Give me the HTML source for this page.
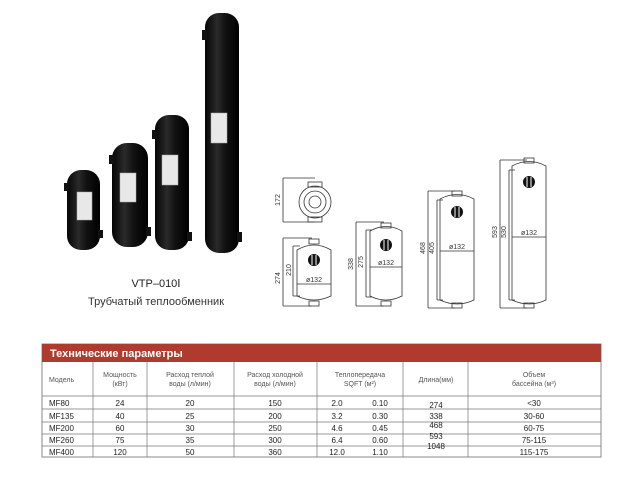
<!DOCTYPE html>
<html><head><meta charset="utf-8"><style>
body{margin:0;background:#fff;width:640px;height:480px;overflow:hidden;font-family:"Liberation Sans",sans-serif;}
svg{position:absolute;left:0;top:0}
</style></head><body>
<svg width="640" height="480" viewBox="0 0 640 480" font-family="Liberation Sans, sans-serif">
<defs>
<linearGradient id="tg" x1="0" x2="1"><stop offset="0" stop-color="#050505"/><stop offset="0.35" stop-color="#2a2a2a"/><stop offset="0.6" stop-color="#111"/><stop offset="1" stop-color="#000"/></linearGradient>
</defs>
<g fill="url(#tg)">
<rect x="67" y="170" width="33" height="80" rx="14"/>
<rect x="112" y="143" width="36" height="104" rx="15"/>
<rect x="155" y="115" width="34" height="135" rx="14"/>
<rect x="205" y="13" width="34" height="240" rx="14"/>
</g>
<g fill="#111">
<rect x="64" y="183" width="5" height="8"/><rect x="98" y="230" width="5" height="8"/>
<rect x="109" y="155" width="5" height="9"/><rect x="146" y="227" width="5" height="9"/>
<rect x="152" y="130" width="5" height="9"/><rect x="187" y="232" width="5" height="9"/>
<rect x="202" y="30" width="5" height="10"/><rect x="237" y="232" width="5" height="10"/>
</g>
<g fill="#e8e8e8" stroke="#aaa" stroke-width="0.5">
<rect x="77" y="192" width="15" height="28"/>
<rect x="120" y="173" width="16" height="29"/>
<rect x="162" y="155" width="16" height="30"/>
<rect x="211" y="113" width="16" height="30"/>
</g>
<text x="156" y="287" font-size="11" text-anchor="middle" fill="#222">VTP–010Ⅰ</text>
<text x="156" y="305" font-size="11" text-anchor="middle" fill="#333">Трубчатый теплообменник</text>

<g fill="none" stroke="#333" stroke-width="0.8">
<circle cx="315" cy="202" r="16"/><circle cx="315" cy="202" r="11"/><circle cx="315" cy="202" r="6"/>
<rect x="308" y="182" width="14" height="5"/><rect x="308" y="217" width="14" height="5"/>
<path d="M283 178V222M283 178H315M283 222H315"/>
<path d="M297 250Q314 240 331 250V296Q314 304 297 296Z"/>
<rect x="309" y="239" width="10" height="5"/><rect x="309" y="301" width="10" height="5"/>
<path d="M283 238V306M283 238H312M283 306H312M293 246V296M293 246H300M293 296H300M297 284H331"/>
<path d="M370 231Q386 222 402 231V296Q386 304 370 296Z"/>
<rect x="381" y="223" width="10" height="5"/><rect x="381" y="301" width="10" height="5"/>
<path d="M356 222V306M356 222H384M356 306H384M366 230V297M366 230H372M366 297H372M370 267H402"/>
<path d="M440 199Q457 190 474 199V300Q457 308 440 300Z"/>
<rect x="452" y="191" width="10" height="5"/><rect x="452" y="303" width="10" height="5"/>
<path d="M428 191V308M428 191H455M428 308H455M437 200V300M437 200H443M437 300H443M440 251H474"/>
<path d="M512 166Q529 157 546 166V300Q529 308 512 300Z"/>
<rect x="524" y="158" width="10" height="5"/><rect x="524" y="303" width="10" height="5"/>
<path d="M500 160V308M500 160H527M500 308H527M509 170V300M509 170H515M509 300H515M512 237H546"/>
</g>
<g fill="#111">
<circle cx="314" cy="260" r="6"/><circle cx="386" cy="245" r="6"/><circle cx="457" cy="212" r="6"/><circle cx="529" cy="182" r="6"/>
</g>
<g stroke="#fff" stroke-width="1"><path d="M312 255V265M316 255V265M384 240V250M388 240V250M455 207V217M459 207V217M527 177V187M531 177V187"/></g>
<g font-size="7" fill="#333">
<text x="314" y="282" text-anchor="middle">ø132</text>
<text x="386" y="265" text-anchor="middle">ø132</text>
<text x="457" y="249" text-anchor="middle">ø132</text>
<text x="529" y="235" text-anchor="middle">ø132</text>
<text transform="translate(280,200) rotate(-90)" text-anchor="middle">172</text>
<text transform="translate(280,278) rotate(-90)" text-anchor="middle">274</text>
<text transform="translate(291,270) rotate(-90)" text-anchor="middle">210</text>
<text transform="translate(353,264) rotate(-90)" text-anchor="middle">338</text>
<text transform="translate(363,262) rotate(-90)" text-anchor="middle">275</text>
<text transform="translate(425,248) rotate(-90)" text-anchor="middle">468</text>
<text transform="translate(434,248) rotate(-90)" text-anchor="middle">405</text>
<text transform="translate(497,232) rotate(-90)" text-anchor="middle">593</text>
<text transform="translate(506,232) rotate(-90)" text-anchor="middle">530</text>
</g>

<rect x="42" y="344" width="559" height="113" fill="#fff" stroke="#888" stroke-width="1"/>
<rect x="42" y="344" width="559" height="18" fill="#b03a2e"/>
<text x="50" y="357" font-size="11" font-weight="bold" fill="#fff">Технические параметры</text>
<g stroke="#777" stroke-width="0.7">
<path d="M93 362V457M147 362V457M234 362V457M317 362V457M403 362V457M468 362V457"/>
<path d="M42 396H601M42 409H601M42 422H601M42 434H601M42 446H601"/>
</g>
<g font-size="7" fill="#555" text-anchor="middle">
<text x="49" y="382" text-anchor="start">Модель</text>
<text x="120" y="377">Мощность</text><text x="120" y="386">(кВт)</text>
<text x="190" y="377">Расход теплой</text><text x="190" y="386">воды (л/мин)</text>
<text x="275" y="377">Расход холодной</text><text x="275" y="386">воды (л/мин)</text>
<text x="360" y="377">Теплопередача</text><text x="360" y="386">SQFT (м²)</text>
<text x="436" y="382">Длина(мм)</text>
<text x="534" y="377">Объем</text><text x="534" y="386">бассейна (м³)</text>
</g>
<g font-size="8" fill="#222">
<text x="49" y="406">MF80</text><text x="49" y="419">MF135</text><text x="49" y="431">MF200</text><text x="49" y="443">MF260</text><text x="49" y="455">MF400</text>
<g text-anchor="middle">
<text x="120" y="406">24</text><text x="120" y="419">40</text><text x="120" y="431">60</text><text x="120" y="443">75</text><text x="120" y="455">120</text>
<text x="190" y="406">20</text><text x="190" y="419">25</text><text x="190" y="431">30</text><text x="190" y="443">35</text><text x="190" y="455">50</text>
<text x="275" y="406">150</text><text x="275" y="419">200</text><text x="275" y="431">250</text><text x="275" y="443">300</text><text x="275" y="455">360</text>
<text x="337" y="406">2.0</text><text x="337" y="419">3.2</text><text x="337" y="431">4.6</text><text x="337" y="443">6.4</text><text x="337" y="455">12.0</text>
<text x="380" y="406">0.10</text><text x="380" y="419">0.30</text><text x="380" y="431">0.45</text><text x="380" y="443">0.60</text><text x="380" y="455">1.10</text>
<text x="436" y="408">274</text><text x="436" y="419">338</text><text x="436" y="428">468</text><text x="436" y="439">593</text><text x="436" y="449">1048</text>
<text x="534" y="406">&lt;30</text><text x="534" y="419">30-60</text><text x="534" y="431">60-75</text><text x="534" y="443">75-115</text><text x="534" y="455">115-175</text>
</g></g>
</svg>
</body></html>
